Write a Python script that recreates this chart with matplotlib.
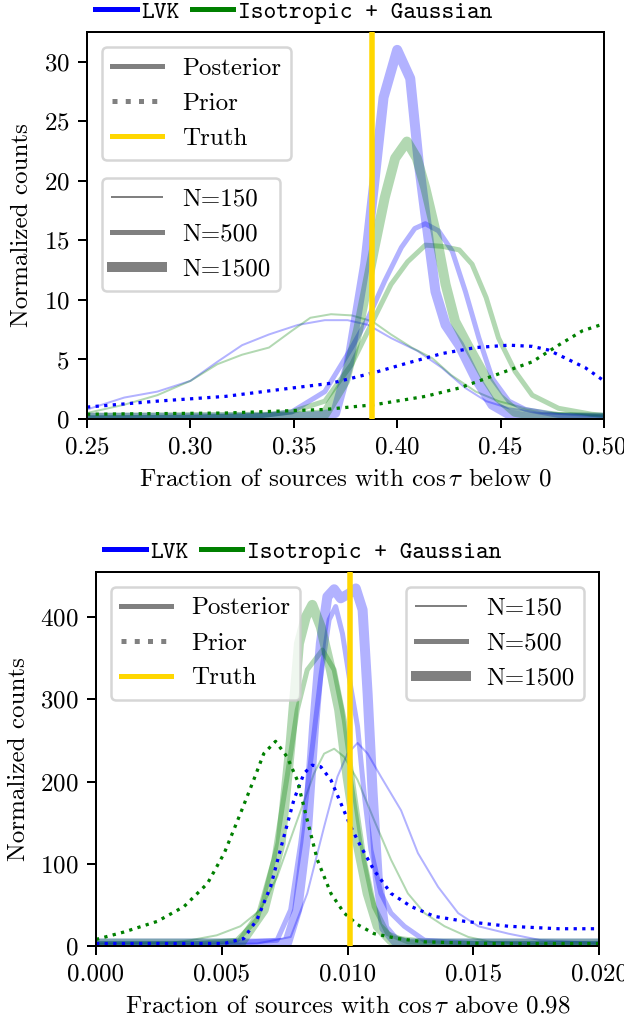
import matplotlib
matplotlib.use("Agg")
import matplotlib.pyplot as plt
from matplotlib.lines import Line2D
from matplotlib.font_manager import FontProperties

plt.rcParams['font.family'] = 'serif'
plt.rcParams['font.serif'] = ['cmr10']
plt.rcParams['mathtext.fontset'] = 'cm'
plt.rcParams['axes.formatter.use_mathtext'] = True
plt.rcParams['font.size'] = 10

# ---------------- Top panel data: fraction with cos(tau) below 0 ----------------
top_truth = 0.388

top_lvk_1500_x = [0.25, 0.30, 0.35, 0.362, 0.370, 0.3765, 0.3845, 0.389, 0.3934, 0.400, 0.4063, 0.4105, 0.4136,
                  0.4185, 0.4234, 0.430, 0.438, 0.446, 0.454, 0.462, 0.48, 0.50]
top_lvk_1500_y = [0.1, 0.1, 0.15, 0.25, 0.5, 4.6, 13.0, 20.0, 27.0, 31.0, 28.6, 21.4, 17.2,
                  10.7, 7.9, 6.2, 3.4, 1.2, 0.4, 0.15, 0.1, 0.1]

top_iso_1500_x = [0.25, 0.30, 0.35, 0.365, 0.3748, 0.381, 0.389, 0.394, 0.399, 0.4047, 0.4095, 0.4136, 0.4185,
                  0.4234, 0.428, 0.4347, 0.443, 0.449, 0.457, 0.47, 0.50]
top_iso_1500_y = [0.1, 0.15, 0.2, 0.4, 3.2, 7.4, 14.4, 18.6, 21.9, 23.3, 21.9, 19.4, 15.8,
                  11.3, 8.2, 6.0, 3.4, 1.8, 0.6, 0.2, 0.1]

top_lvk_500_x = [0.25, 0.30, 0.335, 0.349, 0.365, 0.378, 0.386, 0.394, 0.402, 0.4085, 0.4136, 0.420, 0.4266,
                 0.433, 0.4395, 0.446, 0.454, 0.462, 0.478, 0.50]
top_lvk_500_y = [0.1, 0.15, 0.3, 0.6, 2.3, 6.0, 8.5, 11.6, 14.4, 16.0, 16.4, 15.8, 14.1,
                 10.7, 6.8, 3.4, 1.5, 0.8, 0.3, 0.2]

top_iso_500_x = [0.25, 0.30, 0.335, 0.349, 0.365, 0.378, 0.389, 0.397, 0.405, 0.4136, 0.4218, 0.430, 0.4362,
                 0.443, 0.449, 0.457, 0.4653, 0.478, 0.494, 0.50]
top_iso_500_y = [0.1, 0.15, 0.3, 0.6, 1.5, 4.6, 8.5, 11.3, 13.2, 14.6, 14.5, 14.2, 13.0,
                 10.2, 6.8, 4.0, 2.0, 0.9, 0.4, 0.3]

top_lvk_150_x = [0.25, 0.268, 0.284, 0.300, 0.313, 0.325, 0.338, 0.352, 0.365, 0.376, 0.386, 0.397, 0.410,
                 0.4216, 0.433, 0.443, 0.454, 0.470, 0.50]
top_lvk_150_y = [0.8, 1.8, 2.3, 3.2, 4.8, 6.2, 7.1, 7.9, 8.3, 8.3, 7.9, 6.8, 5.7,
                 4.3, 2.6, 1.5, 0.9, 0.5, 0.2]

top_iso_150_x = [0.25, 0.268, 0.284, 0.300, 0.313, 0.325, 0.338, 0.349, 0.358, 0.368, 0.378, 0.388, 0.397,
                 0.407, 0.417, 0.426, 0.438, 0.449, 0.462, 0.478, 0.50]
top_iso_150_y = [0.5, 1.2, 2.0, 3.2, 4.6, 5.4, 6.0, 7.4, 8.5, 8.8, 8.7, 8.2, 7.1,
                 6.0, 5.1, 3.7, 2.3, 1.5, 0.9, 0.5, 0.3]

top_lvk_prior_x = [0.25, 0.284, 0.317, 0.349, 0.368, 0.389, 0.405, 0.4218, 0.438, 0.454, 0.4653, 0.473, 0.4815,
                   0.491, 0.50]
top_lvk_prior_y = [1.0, 1.5, 1.9, 2.6, 3.0, 3.9, 4.7, 5.5, 6.0, 6.2, 6.1, 5.8, 5.1,
                   4.3, 3.2]

top_iso_prior_x = [0.25, 0.317, 0.365, 0.389, 0.4136, 0.430, 0.446, 0.4653, 0.478, 0.4895, 0.50]
top_iso_prior_y = [0.4, 0.5, 0.8, 1.2, 1.9, 2.6, 3.6, 4.8, 6.2, 7.4, 8.0]

# ---------------- Bottom panel data: fraction with cos(tau) above 0.98 ----------------
bot_truth = 0.0101

bot_lvk_1500_x = [0.0, 0.005, 0.0070, 0.0076, 0.0080, 0.0084, 0.00867, 0.00894, 0.0092, 0.00947, 0.00973, 0.01007,
                  0.01033, 0.0106, 0.0108, 0.0110, 0.0112, 0.01146, 0.0119, 0.0124, 0.014, 0.020]
bot_lvk_1500_y = [3, 3, 3, 4, 44, 145, 267, 368, 425, 434, 423, 429,
                  435, 409, 307, 186, 84, 22, 6, 3, 3, 3]

bot_lvk_500_x = [0.0, 0.005, 0.0072, 0.00774, 0.00814, 0.00854, 0.00894, 0.00927, 0.00953, 0.0098, 0.01013,
                 0.0104, 0.01066, 0.01093, 0.01133, 0.01173, 0.01226, 0.01306, 0.015, 0.020]
bot_lvk_500_y = [3, 3, 7, 44, 125, 226, 328, 397, 413, 380, 315,
                 267, 186, 117, 64, 40, 24, 7, 3, 3]

bot_lvk_150_x = [0.0, 0.0064, 0.00774, 0.0084, 0.00907, 0.0096, 0.0100, 0.0104, 0.0108, 0.01133, 0.01213, 0.0128,
                 0.0136, 0.0144, 0.0152, 0.0164, 0.0177, 0.0197, 0.020]
bot_lvk_150_y = [3, 3, 11, 64, 145, 206, 234, 247, 234, 206, 165, 113,
                 72, 40, 24, 15, 7, 4, 4]

bot_iso_1500_x = [0.0, 0.004, 0.00574, 0.00667, 0.00734, 0.00774, 0.00807, 0.00834, 0.0086, 0.00894, 0.00934,
                  0.00967, 0.0100, 0.0104, 0.0108, 0.0112, 0.01173, 0.013, 0.020]
bot_iso_1500_y = [3, 3, 3, 44, 125, 247, 368, 400, 415, 388, 336,
                  287, 206, 125, 64, 24, 7, 3, 3]

bot_iso_500_x = [0.0, 0.004, 0.0056, 0.0064, 0.00707, 0.0076, 0.0080, 0.0084, 0.0090, 0.00947, 0.00987, 0.01027,
                 0.01066, 0.01106, 0.0116, 0.0124, 0.014, 0.020]
bot_iso_500_y = [3, 3, 7, 32, 105, 206, 287, 336, 360, 336, 275, 186,
                 105, 48, 15, 5, 3, 3]

bot_iso_150_x = [0.0, 0.003, 0.00375, 0.0048, 0.00574, 0.00654, 0.0072, 0.0080, 0.00867, 0.00907, 0.00947, 0.00987,
                 0.0104, 0.01106, 0.01173, 0.0124, 0.01306, 0.01386, 0.0148, 0.0157, 0.017, 0.020]
bot_iso_150_y = [3, 4, 7, 13, 24, 44, 84, 153, 210, 234, 240, 230,
                 202, 153, 105, 64, 40, 24, 11, 5, 3, 3]

bot_iso_prior_x = [0.0, 0.00111, 0.00244, 0.0035, 0.00443, 0.0051, 0.00574, 0.00627, 0.00667, 0.00714, 0.0076,
                   0.0080, 0.0084, 0.0088, 0.00934, 0.00987, 0.0104, 0.01106, 0.0120, 0.01306, 0.0157, 0.020]
bot_iso_prior_y = [8, 17, 30, 48, 76, 113, 161, 202, 234, 249, 230,
                   202, 153, 105, 64, 40, 26, 15, 9, 5, 3, 3]

bot_lvk_prior_x = [0.0, 0.0051, 0.00587, 0.0064, 0.00694, 0.00747, 0.00787, 0.00827, 0.0086, 0.00894, 0.00934,
                   0.00973, 0.01013, 0.01053, 0.01106, 0.01173, 0.01253, 0.01346, 0.01466, 0.0164, 0.0184, 0.020]
bot_lvk_prior_y = [3, 3, 9, 32, 72, 133, 178, 210, 220, 218, 202,
                   174, 145, 121, 92, 64, 48, 36, 30, 24, 21, 21]

BLUE = 'blue'
GREEN = 'green'
TRUTH = '#FFD700'
ALPHA = 0.3
LW = {150: 0.8, 500: 2.0, 1500: 4.0}

fig = plt.figure(figsize=(624 / 180, 1019 / 180), dpi=180)
ax1 = fig.add_axes([87 / 624, 1 - 419 / 1019, (604 - 87) / 624, (419 - 32) / 1019])
ax2 = fig.add_axes([96 / 624, 1 - 946 / 1019, (599 - 96) / 624, (946 - 572) / 1019])

tt_font = FontProperties(family='cmtt10', size=9.7)


def draw(ax, curves, priors, truth):
    for (x, y, n, c) in curves:
        ax.plot(x, y, color=c, lw=LW[n], alpha=ALPHA, solid_joinstyle='round')
    for (x, y, c) in priors:
        ax.plot(x, y, color=c, lw=1.3, ls=':')
    ax.axvline(truth, color=TRUTH, lw=2.2, zorder=5)
    top = ax.legend(handles=[Line2D([], [], color=BLUE, lw=2, label='LVK'),
                             Line2D([], [], color=GREEN, lw=2, label='Isotropic + Gaussian')],
                    loc='lower left', bbox_to_anchor=(0, 1.0), ncol=2, frameon=False,
                    prop=tt_font, handlelength=1.7, handletextpad=0.2, columnspacing=0.5,
                    borderaxespad=0.1, borderpad=0.25)
    ax.add_artist(top)


draw(ax1,
     [(top_lvk_150_x, top_lvk_150_y, 150, BLUE), (top_iso_150_x, top_iso_150_y, 150, GREEN),
      (top_lvk_500_x, top_lvk_500_y, 500, BLUE), (top_iso_500_x, top_iso_500_y, 500, GREEN),
      (top_lvk_1500_x, top_lvk_1500_y, 1500, BLUE), (top_iso_1500_x, top_iso_1500_y, 1500, GREEN)],
     [(top_lvk_prior_x, top_lvk_prior_y, BLUE), (top_iso_prior_x, top_iso_prior_y, GREEN)],
     top_truth)
draw(ax2,
     [(bot_lvk_150_x, bot_lvk_150_y, 150, BLUE), (bot_iso_150_x, bot_iso_150_y, 150, GREEN),
      (bot_lvk_500_x, bot_lvk_500_y, 500, BLUE), (bot_iso_500_x, bot_iso_500_y, 500, GREEN),
      (bot_lvk_1500_x, bot_lvk_1500_y, 1500, BLUE), (bot_iso_1500_x, bot_iso_1500_y, 1500, GREEN)],
     [(bot_lvk_prior_x, bot_lvk_prior_y, BLUE), (bot_iso_prior_x, bot_iso_prior_y, GREEN)],
     bot_truth)

style_handles = [Line2D([], [], color='gray', lw=2, label='Posterior'),
                 Line2D([], [], color='gray', lw=2, ls=':', label='Prior'),
                 Line2D([], [], color=TRUTH, lw=2, label='Truth')]
n_handles = [Line2D([], [], color='gray', lw=LW[n], label=f'N={n}') for n in (150, 500, 1500)]

l1 = ax1.legend(handles=style_handles, loc='upper left', borderaxespad=0.6)
ax1.add_artist(l1)
ax1.legend(handles=n_handles, loc='upper left', bbox_to_anchor=(0, 0.661), borderaxespad=0.6)

l2 = ax2.legend(handles=style_handles, loc='upper left', borderaxespad=0.6)
ax2.add_artist(l2)
ax2.legend(handles=n_handles, loc='upper right', borderaxespad=0.6)

ax1.set_xlim(0.25, 0.50)
ax1.set_ylim(0, 32.5)
ax1.set_xticks([0.25, 0.30, 0.35, 0.40, 0.45, 0.50])
ax1.set_xticklabels(['0.25', '0.30', '0.35', '0.40', '0.45', '0.50'])
ax1.set_yticks([0, 5, 10, 15, 20, 25, 30])
ax1.set_xlabel(r'Fraction of sources with $\cos\tau$ below 0')
ax1.set_ylabel('Normalized counts')

ax2.set_xlim(0.0, 0.020)
ax2.set_ylim(0, 455)
ax2.set_xticks([0.0, 0.005, 0.010, 0.015, 0.020])
ax2.set_xticklabels(['0.000', '0.005', '0.010', '0.015', '0.020'])
ax2.set_yticks([0, 100, 200, 300, 400])
ax2.set_xlabel(r'Fraction of sources with $\cos\tau$ above 0.98')
ax2.set_ylabel('Normalized counts')

fig.savefig('out.png', dpi=180)
